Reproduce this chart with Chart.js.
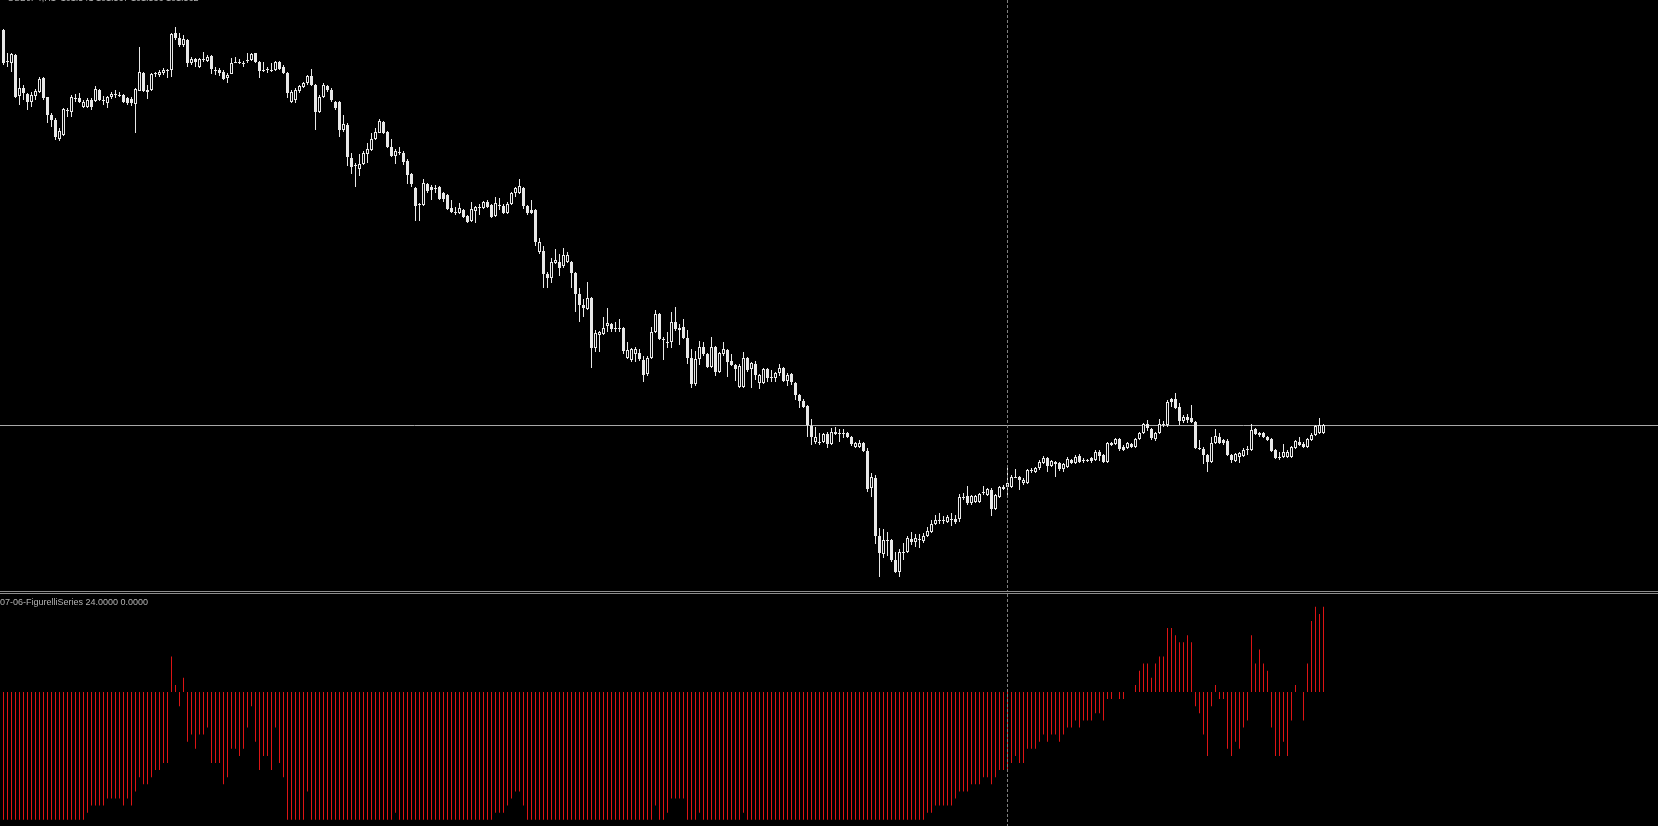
<!DOCTYPE html>
<html>
<head>
<meta charset="utf-8">
<script src="https://cdn.jsdelivr.net/npm/chart.js@4.4.0/dist/chart.umd.min.js"></script>
<style>
body { margin: 0; background: #000; width: 1658px; height: 826px; overflow: hidden; position: relative; font-family: 'Liberation Sans', Arial, sans-serif; }
#price { position: absolute; left: 0; top: 0; }
#indicator { position: absolute; left: 0; top: 594px; }
.sep { position: absolute; left: 0; width: 1658px; height: 1px; background: #8c8c8c; }
.lbl { position: absolute; left: 0; font-size: 9px; line-height: 9px; color: #b4b4b4; white-space: pre; }
</style>
</head>
<body>
<canvas id="price" width="1658" height="591"></canvas>
<div class="sep" style="top:591px"></div>
<div class="sep" style="top:593px"></div>
<canvas id="indicator" width="1658" height="232"></canvas>
<div class="lbl" style="top:-6px; left:2px">· USDJPY,H1  101.541 101.567 101.536 101.562</div>
<div class="lbl" style="top:598px">07-06-FigurelliSeries 24.0000 0.0000</div>
<script>
// hourly candles
const opens = [
105.70,105.39,105.37,105.45,105.04,105.12,105.06,104.98,105.04,105.08,
105.22,105.03,104.85,104.80,104.61,104.65,104.90,104.88,105.02,105.02,
104.93,104.93,105.00,104.99,105.10,105.00,104.97,105.03,105.06,105.05,
105.05,105.02,105.01,104.96,105.09,105.27,105.10,105.10,105.27,105.25,
105.27,105.30,105.30,105.67,105.62,105.55,105.60,105.37,105.41,105.33,
105.41,105.39,105.44,105.30,105.30,105.28,105.22,105.26,105.37,105.38,
105.37,105.40,105.40,105.47,105.38,105.30,105.31,105.30,105.30,105.38,
105.33,105.27,104.98,105.00,105.09,105.13,105.17,105.24,105.15,104.88,
105.03,105.14,105.10,104.98,104.98,104.70,104.75,104.42,104.35,104.31,
104.36,104.46,104.50,104.61,104.67,104.78,104.68,104.53,104.44,104.48,
104.47,104.39,104.26,104.12,103.96,103.95,104.16,104.13,104.12,104.13,
104.07,104.05,103.92,103.88,103.87,103.90,103.84,103.79,103.89,103.93,
103.92,103.98,103.95,103.84,103.95,103.94,103.87,103.96,104.07,104.07,
104.12,103.94,103.90,103.90,103.48,103.49,103.26,103.22,103.37,103.38,
103.34,103.38,103.38,103.27,103.06,102.95,102.91,103.02,102.52,102.65,
102.66,102.74,102.76,102.72,102.72,102.72,102.42,102.40,102.46,102.47,
102.40,102.26,102.42,102.68,102.86,102.61,102.58,102.58,102.78,102.70,
102.73,102.62,102.42,102.16,102.41,102.53,102.46,102.33,102.53,102.28,
102.46,102.50,102.39,102.35,102.13,102.13,102.42,102.31,102.36,102.17,
102.17,102.31,102.23,102.22,102.27,102.32,102.19,102.26,102.17,102.05,
101.99,101.94,101.74,101.58,101.58,101.58,101.66,101.56,101.68,101.67,
101.66,101.67,101.63,101.53,101.53,101.57,101.49,101.12,101.22,100.64,
100.46,100.60,100.60,100.40,100.28,100.48,100.48,100.61,100.58,100.60,
100.59,100.64,100.68,100.76,100.80,100.79,100.78,100.80,100.81,100.81,
101.03,101.04,100.97,100.98,100.98,101.07,101.05,101.10,100.91,101.03,
101.13,101.13,101.13,101.23,101.23,101.17,101.17,101.30,101.28,101.32,
101.37,101.42,101.34,101.38,101.37,101.31,101.33,101.40,101.37,101.44,
101.40,101.39,101.42,101.40,101.48,101.45,101.38,101.57,101.56,101.61,
101.53,101.52,101.56,101.53,101.61,101.67,101.76,101.71,101.61,101.67,
101.75,101.75,102.01,102.01,101.93,101.79,101.83,101.82,101.78,101.52,
101.51,101.45,101.38,101.57,101.63,101.60,101.59,101.45,101.39,101.43,
101.44,101.50,101.50,101.71,101.67,101.67,101.63,101.61,101.50,101.43,
101.43,101.43,101.43,101.52,101.58,101.56,101.53,101.60,101.65,101.67,
101.67]
const highs = [
105.71,105.47,105.47,105.46,105.22,105.15,105.07,105.08,105.11,105.23,
105.23,105.03,104.87,104.82,104.72,104.92,104.92,105.05,105.06,105.07,
105.00,105.02,105.02,105.14,105.11,105.04,105.04,105.08,105.10,105.08,
105.06,105.03,105.03,105.12,105.53,105.28,105.15,105.27,105.28,105.30,
105.32,105.31,105.67,105.73,105.67,105.65,105.61,105.43,105.42,105.42,
105.48,105.45,105.45,105.33,105.32,105.30,105.27,105.42,105.43,105.41,
105.39,105.47,105.47,105.47,105.39,105.38,105.33,105.37,105.39,105.39,
105.35,105.28,105.10,105.12,105.15,105.18,105.25,105.31,105.16,105.05,
105.17,105.15,105.12,104.99,104.99,104.85,104.77,104.47,104.37,104.46,
104.49,104.57,104.67,104.72,104.81,104.79,104.69,104.61,104.51,104.53,
104.49,104.41,104.27,104.13,103.97,104.21,104.17,104.15,104.15,104.14,
104.08,104.06,104.00,103.93,103.97,103.91,103.85,103.98,103.94,103.96,
103.99,104.00,103.96,104.03,104.02,103.96,103.98,104.08,104.13,104.21,
104.13,103.95,104.00,103.91,103.62,103.54,103.28,103.42,103.51,103.46,
103.52,103.48,103.39,103.28,103.12,103.01,103.18,103.03,102.70,102.69,
102.83,102.92,102.77,102.78,102.81,102.73,102.58,102.52,102.53,102.51,
102.44,102.44,102.73,102.90,102.87,102.63,102.68,102.88,102.93,102.76,
102.81,102.70,102.51,102.49,102.59,102.58,102.47,102.63,102.54,102.48,
102.58,102.51,102.46,102.36,102.36,102.48,102.43,102.38,102.39,102.26,
102.32,102.32,102.30,102.28,102.36,102.33,102.27,102.27,102.18,102.06,
102.01,101.95,101.81,101.73,101.67,101.67,101.68,101.72,101.73,101.71,
101.71,101.68,101.64,101.58,101.60,101.58,101.52,101.27,101.25,100.72,
100.71,100.68,100.61,100.48,100.51,100.57,100.64,100.68,100.66,100.66,
100.67,100.73,100.80,100.85,100.87,100.84,100.85,100.87,100.85,101.06,
101.07,101.14,101.05,101.05,101.07,101.14,101.12,101.12,101.06,101.14,
101.15,101.34,101.25,101.31,101.24,101.22,101.31,101.32,101.33,101.40,
101.44,101.43,101.40,101.39,101.38,101.37,101.43,101.41,101.45,101.46,
101.42,101.41,101.43,101.50,101.50,101.46,101.58,101.58,101.62,101.62,
101.55,101.58,101.57,101.62,101.68,101.77,101.80,101.72,101.68,101.81,
101.79,102.00,102.02,102.07,101.97,101.85,101.86,101.95,101.79,101.60,
101.53,101.46,101.63,101.71,101.67,101.61,101.61,101.46,101.47,101.48,
101.52,101.54,101.76,101.72,101.68,101.68,101.64,101.62,101.51,101.48,
101.56,101.50,101.54,101.60,101.63,101.58,101.62,101.67,101.75,101.82,
101.76]
const lows = [
105.35,105.33,105.28,105.02,104.95,105.00,104.90,104.93,105.00,105.07,
105.00,104.77,104.73,104.60,104.59,104.64,104.83,104.83,104.98,104.97,
104.92,104.92,104.90,104.98,104.99,104.95,104.92,105.01,105.02,105.03,
104.97,104.95,104.94,104.67,105.09,105.08,105.01,105.09,105.23,105.23,
105.25,105.22,105.23,105.60,105.53,105.53,105.33,105.35,105.33,105.32,
105.38,105.38,105.26,105.25,105.24,105.20,105.17,105.26,105.37,105.36,
105.33,105.37,105.39,105.37,105.22,105.28,105.27,105.28,105.29,105.30,
105.26,105.02,104.97,104.97,105.07,105.12,105.15,105.14,104.70,104.87,
105.02,105.08,104.98,104.90,104.63,104.68,104.34,104.26,104.13,104.24,
104.35,104.37,104.49,104.60,104.67,104.66,104.52,104.43,104.36,104.45,
104.35,104.16,104.13,103.79,103.79,103.94,104.07,104.00,104.07,104.00,
103.98,103.90,103.87,103.85,103.86,103.82,103.77,103.78,103.77,103.85,
103.91,103.92,103.82,103.83,103.90,103.86,103.86,103.95,104.03,104.06,
103.91,103.85,103.86,103.54,103.46,103.12,103.12,103.17,103.36,103.24,
103.32,103.37,103.12,102.88,102.78,102.83,102.90,102.32,102.48,102.48,
102.65,102.68,102.68,102.68,102.68,102.46,102.41,102.38,102.38,102.39,
102.18,102.24,102.41,102.67,102.60,102.40,102.52,102.52,102.69,102.55,
102.61,102.36,102.12,102.14,102.35,102.44,102.32,102.32,102.24,102.27,
102.44,102.23,102.34,102.19,102.12,102.12,102.28,102.12,102.20,102.11,
102.16,102.18,102.18,102.18,102.24,102.18,102.14,102.15,102.00,101.92,
101.92,101.63,101.55,101.56,101.55,101.57,101.52,101.55,101.65,101.58,
101.62,101.62,101.54,101.52,101.52,101.48,101.08,101.03,100.56,100.23,
100.42,100.44,100.38,100.27,100.23,100.40,100.47,100.55,100.53,100.52,
100.57,100.63,100.67,100.75,100.76,100.76,100.77,100.74,100.76,100.78,
101.00,100.95,100.95,100.97,100.97,101.05,101.04,100.84,100.90,101.02,
101.10,101.03,101.12,101.22,101.10,101.15,101.16,101.27,101.27,101.30,
101.36,101.28,101.33,101.23,101.29,101.28,101.32,101.36,101.36,101.37,
101.37,101.38,101.37,101.39,101.39,101.37,101.37,101.54,101.55,101.49,
101.49,101.51,101.52,101.52,101.60,101.66,101.69,101.60,101.59,101.66,
101.73,101.73,101.93,101.91,101.75,101.77,101.77,101.77,101.51,101.50,
101.36,101.28,101.37,101.56,101.56,101.55,101.44,101.37,101.38,101.37,
101.43,101.45,101.49,101.65,101.63,101.62,101.59,101.48,101.41,101.40,
101.42,101.42,101.42,101.51,101.54,101.52,101.52,101.59,101.64,101.66,
101.66]
const closes = [
105.37,105.38,105.46,105.03,105.12,105.07,104.98,105.05,105.09,105.21,
105.02,104.85,104.80,104.63,104.69,104.91,104.89,105.03,105.01,104.98,
104.98,105.00,104.93,105.11,105.00,104.99,105.03,105.06,105.05,105.04,
104.98,104.97,104.97,105.11,105.28,105.09,105.08,105.26,105.26,105.28,
105.30,105.29,105.66,105.62,105.55,105.61,105.37,105.41,105.38,105.41,
105.40,105.43,105.31,105.29,105.27,105.21,105.25,105.37,105.38,105.37,
105.36,105.39,105.46,105.38,105.29,105.29,105.30,105.29,105.38,105.31,
105.27,105.07,105.08,105.10,105.14,105.17,105.24,105.15,104.88,105.03,
105.15,105.10,105.00,104.92,104.70,104.76,104.43,104.33,104.34,104.36,
104.47,104.51,104.61,104.68,104.79,104.67,104.53,104.44,104.49,104.47,
104.38,104.25,104.16,103.94,103.95,104.17,104.09,104.10,104.11,104.01,
104.01,103.91,103.88,103.87,103.92,103.83,103.78,103.91,103.93,103.92,
103.98,103.93,103.83,103.97,103.94,103.87,103.96,104.07,104.12,104.14,
103.94,103.87,103.87,103.58,103.58,103.26,103.22,103.38,103.40,103.32,
103.45,103.45,103.27,103.06,102.95,102.92,103.02,102.52,102.67,102.68,
102.72,102.77,102.71,102.71,102.71,102.49,102.50,102.51,102.51,102.41,
102.25,102.42,102.68,102.86,102.61,102.60,102.57,102.78,102.71,102.72,
102.62,102.42,102.16,102.41,102.53,102.46,102.33,102.53,102.28,102.47,
102.51,102.38,102.35,102.31,102.34,102.42,102.30,102.37,102.25,102.25,
102.31,102.22,102.22,102.27,102.32,102.19,102.25,102.18,102.05,101.99,
101.93,101.75,101.63,101.63,101.57,101.66,101.56,101.68,101.66,101.66,
101.67,101.63,101.56,101.57,101.57,101.49,101.11,101.23,100.64,100.47,
100.60,100.59,100.40,100.28,100.48,100.47,100.62,100.58,100.62,100.61,
100.64,100.69,100.76,100.80,100.79,100.80,100.83,100.81,100.78,101.03,
101.02,100.97,101.04,101.04,101.06,101.08,101.11,100.91,101.05,101.13,
101.11,101.17,101.23,101.22,101.20,101.20,101.30,101.29,101.32,101.38,
101.42,101.34,101.39,101.36,101.31,101.36,101.41,101.37,101.43,101.38,
101.39,101.40,101.39,101.48,101.44,101.38,101.57,101.55,101.61,101.51,
101.50,101.57,101.53,101.61,101.67,101.76,101.72,101.62,101.67,101.76,
101.76,101.98,101.98,101.92,101.79,101.83,101.80,101.78,101.52,101.51,
101.45,101.38,101.57,101.64,101.57,101.57,101.45,101.40,101.46,101.47,
101.50,101.51,101.70,101.66,101.65,101.63,101.60,101.49,101.42,101.42,
101.48,101.48,101.53,101.59,101.55,101.53,101.61,101.65,101.74,101.75,
101.75]
// FigurelliSeries histogram, one value per candle
const figurelli = [
-18,-18,-18,-18,-18,-18,-18,-18,-18,-18,
-18,-18,-18,-18,-18,-18,-18,-18,-18,-18,
-18,-17,-16,-16,-16,-16,-15,-15,-15,-15,
-16,-15,-16,-14,-12,-13,-13,-12,-11,-11,
-10,-10,5,1,-2,2,-7,-6,-8,-6,
-6,-5,-10,-10,-10,-13,-12,-8,-8,-9,
-8,-5,-2,-7,-11,-9,-9,-11,-5,-10,
-12,-18,-18,-18,-18,-18,-14,-18,-18,-18,
-18,-18,-18,-18,-18,-18,-18,-18,-18,-18,
-18,-18,-18,-18,-18,-18,-18,-18,-17,-18,
-18,-18,-18,-18,-18,-18,-18,-18,-18,-18,
-18,-18,-18,-18,-18,-18,-18,-18,-18,-18,
-18,-18,-18,-17,-17,-17,-16,-15,-14,-14,
-16,-18,-18,-18,-18,-18,-18,-18,-18,-18,
-18,-18,-18,-18,-18,-18,-18,-18,-18,-18,
-18,-18,-18,-18,-18,-18,-18,-18,-18,-18,
-18,-18,-18,-16,-18,-18,-17,-15,-15,-15,
-15,-18,-18,-18,-17,-18,-18,-18,-18,-18,
-18,-18,-18,-18,-18,-17,-18,-18,-18,-18,
-18,-18,-18,-18,-18,-18,-18,-18,-18,-18,
-18,-18,-18,-18,-18,-18,-18,-18,-18,-18,
-18,-18,-18,-18,-18,-18,-18,-18,-18,-18,
-18,-18,-18,-18,-18,-18,-18,-18,-18,-18,
-18,-17,-17,-16,-16,-16,-16,-16,-15,-14,
-14,-14,-13,-13,-13,-12,-12,-13,-12,-11,
-11,-11,-10,-9,-10,-10,-8,-8,-8,-7,
-6,-7,-6,-6,-7,-6,-5,-5,-4,-5,
-4,-4,-4,-3,-3,-4,-1,-1,0,-1,
-1,0,0,1,3,4,4,2,4,5,
5,9,9,8,7,7,8,7,-2,-3,
-6,-9,-2,1,-1,-1,-8,-9,-7,-8,
-5,-4,8,4,6,4,3,-5,-9,-9,
-7,-9,-4,1,0,-4,4,10,12,11,
12]
const cursor_bar = 251

const candle_color = '#e8e8e8'
const hist_color = 'rgb(220,20,20)'

function x_scale() {
    return { type: 'linear', min: -0.875, max: 413.625, display: false, offset: false }
}

const cursor_line = {
    id: 'cursor_line',
    afterDatasetsDraw(chart) {
        const ctx = chart.ctx
        let x = Math.floor(chart.scales.x.getPixelForValue(cursor_bar)) + 0.5
        ctx.save()
        ctx.strokeStyle = '#808080'
        ctx.lineWidth = 1
        ctx.setLineDash([3, 2])
        ctx.beginPath()
        ctx.moveTo(x, 0)
        ctx.lineTo(x, chart.height)
        ctx.stroke()
        ctx.restore()
    }
}

const bid_line = {
    id: 'bid_line',
    beforeDatasetsDraw(chart) {
        const ctx = chart.ctx
        let y = Math.round(chart.scales.y.getPixelForValue(closes[closes.length - 1])) + 0.5
        ctx.save()
        ctx.strokeStyle = '#a8a8a8'
        ctx.lineWidth = 1
        ctx.beginPath()
        ctx.moveTo(0, y)
        ctx.lineTo(chart.width, y)
        ctx.stroke()
        ctx.restore()
    }
}

function print_candles() {
    let bodies = []
    let wicks = []
    let fills = []
    opens.forEach((o, i) => {
        bodies.push({ x: i, y: [o, closes[i]] })
        wicks.push({ x: i, y: [lows[i], highs[i]] })
        // bearish = filled, bullish = hollow
        fills.push(closes[i] < o ? candle_color : '#000')
    })

    new Chart(document.getElementById('price'), {
        type: 'bar',
        data: {
            datasets: [
                {
                    data: bodies,
                    backgroundColor: fills,
                    borderColor: candle_color,
                    borderWidth: 1,
                    borderSkipped: false,
                    barThickness: 3,
                    minBarLength: 1,
                    inflateAmount: 0,
                    grouped: false
                },
                {
                    data: wicks,
                    backgroundColor: candle_color,
                    borderWidth: 0,
                    barThickness: 1,
                    inflateAmount: 0,
                    grouped: false
                }
            ]
        },
        options: {
            responsive: false,
            animation: false,
            devicePixelRatio: 1,
            events: [],
            layout: { padding: 0 },
            plugins: { legend: { display: false }, tooltip: { enabled: false } },
            scales: {
                x: x_scale(),
                y: { type: 'linear', min: 100.09, max: 106.00, display: false }
            }
        },
        plugins: [bid_line, cursor_line]
    })
}

function print_figurelli() {
    let points = figurelli.map((v, i) => ({ x: i, y: v }))

    new Chart(document.getElementById('indicator'), {
        type: 'bar',
        data: {
            datasets: [{
                data: points,
                backgroundColor: hist_color,
                borderWidth: 0,
                barThickness: 1,
                inflateAmount: 0,
                grouped: false
            }]
        },
        options: {
            responsive: false,
            animation: false,
            devicePixelRatio: 1,
            events: [],
            layout: { padding: 0 },
            plugins: { legend: { display: false }, tooltip: { enabled: false } },
            scales: {
                x: x_scale(),
                y: { type: 'linear', min: -18.873, max: 13.803, display: false }
            }
        },
        plugins: [cursor_line]
    })
}

print_candles()
print_figurelli()
</script>
</body>
</html>
